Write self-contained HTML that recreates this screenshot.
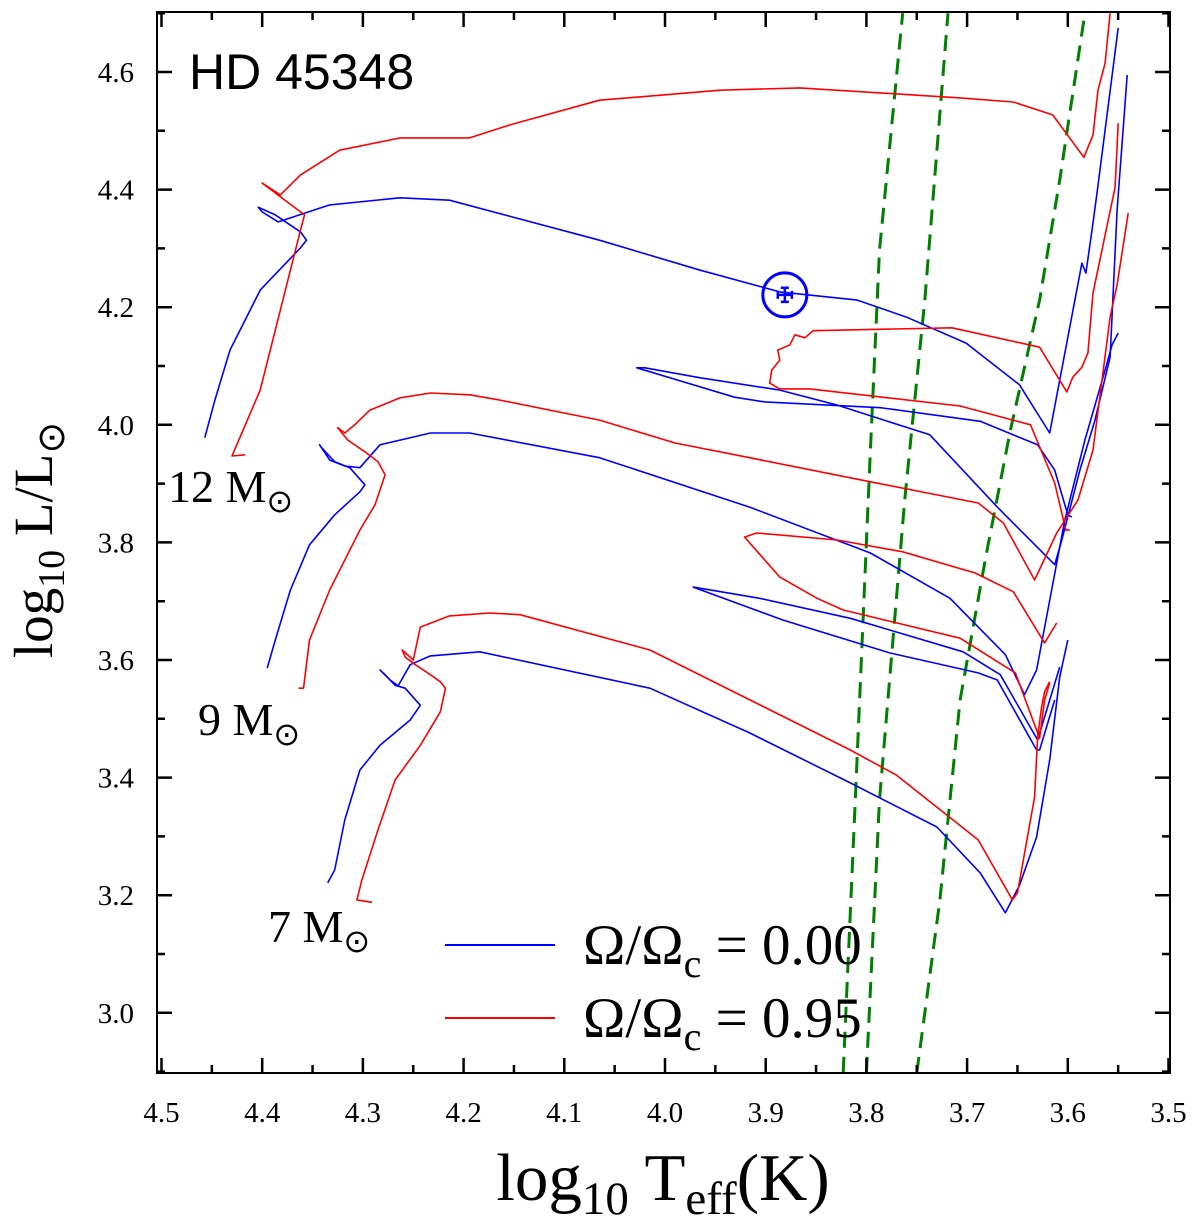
<!DOCTYPE html>
<html><head><meta charset="utf-8">
<style>
html,body{margin:0;padding:0;background:#fff;}
svg{display:block;font-family:"Liberation Serif",serif;}
.tick{font-family:"Liberation Serif",serif;}
</style></head>
<body>
<svg id="chart" width="1200" height="1222" viewBox="0 0 1200 1222" xmlns="http://www.w3.org/2000/svg">
<defs><clipPath id="plotclip"><rect x="157" y="12" width="1013" height="1061"/></clipPath></defs>
<rect x="157" y="12" width="1013" height="1061" fill="#fff" stroke="none"/>
<g id="tracks" clip-path="url(#plotclip)"></g>
<g id="axes"></g>
<text x="189" y="89" font-size="50" style="font-family:'Liberation Sans',sans-serif">HD 45348</text>
<text x="168" y="502" font-size="46">12 M<tspan font-size="32" dy="10">⊙</tspan></text>
<text x="198" y="735" font-size="46">9 M<tspan font-size="32" dy="10">⊙</tspan></text>
<text x="268" y="942" font-size="46">7 M<tspan font-size="32" dy="10">⊙</tspan></text>
<g>
<line x1="445" y1="945" x2="555" y2="945" stroke="#0000ff" stroke-width="2"/>
<text x="583" y="964" font-size="57">Ω/Ω<tspan font-size="40" dy="13">c</tspan><tspan dy="-13"> = 0.00</tspan></text>
<line x1="445" y1="1018" x2="555" y2="1018" stroke="#ff0000" stroke-width="2"/>
<text x="583" y="1037" font-size="57">Ω/Ω<tspan font-size="40" dy="13">c</tspan><tspan dy="-13"> = 0.95</tspan></text>
</g>
<text transform="translate(52,540) rotate(-90)" text-anchor="middle" font-size="55">log<tspan font-size="38" dy="12">10</tspan><tspan dy="-12"> L/L</tspan><tspan font-size="38" dy="12">⊙</tspan></text>
<text x="663" y="1200" text-anchor="middle" font-size="67">log<tspan font-size="47" dy="14">10</tspan><tspan dy="-14"> T</tspan><tspan font-size="47" dy="14">eff</tspan><tspan dy="-14">(K)</tspan></text>
</svg>
<script>
// Data (log Teff, log L/Lsun)
const xTicksMajor = [4.5,4.4,4.3,4.2,4.1,4.0,3.9,3.8,3.7,3.6,3.5];
const xTickLabels = ["4.5","4.4","4.3","4.2","4.1","4.0","3.9","3.8","3.7","3.6","3.5"];
const yTicksMajor = [3.0,3.2,3.4,3.6,3.8,4.0,4.2,4.4,4.6];
const yTickLabels = ["3.0","3.2","3.4","3.6","3.8","4.0","4.2","4.4","4.6"];
const starT = 3.881, starL = 4.221, starTerr = 0.007, starLerr = 0.012;

const blue12Main = [[4.457,3.978],[4.447,4.042],[4.432,4.127],[4.402,4.229],[4.362,4.301],[4.356,4.314],[4.362,4.328],[4.387,4.357],[4.404,4.370],[4.400,4.362],[4.384,4.345],[4.333,4.374],[4.263,4.386],[4.214,4.382],[4.065,4.314],[3.965,4.263],[3.886,4.226],[3.809,4.212],[3.760,4.183],[3.701,4.139],[3.648,4.068],[3.618,3.986],[3.586,4.275],[3.582,4.258],[3.576,4.331],[3.571,4.394],[3.550,4.675]];
const blue12Loop = [[3.596,3.843],[3.600,3.847],[3.613,3.923],[3.630,3.966],[3.687,4.006],[3.786,4.029],[3.901,4.039],[3.931,4.047],[4.028,4.097],[4.020,4.097],[3.965,4.080],[3.886,4.059],[3.830,4.034],[3.737,3.983],[3.670,3.860],[3.613,3.762],[3.606,3.804],[3.588,3.923],[3.573,4.008],[3.558,4.115],[3.551,4.365],[3.541,4.595]];
const red12Main = [[4.417,3.949],[4.430,3.947],[4.402,4.059],[4.377,4.229],[4.362,4.331],[4.358,4.357],[4.400,4.411],[4.382,4.391],[4.362,4.425],[4.323,4.467],[4.263,4.488],[4.194,4.488],[4.154,4.510],[4.065,4.552],[3.945,4.569],[3.866,4.573],[3.707,4.556],[3.654,4.549],[3.615,4.527],[3.584,4.455],[3.575,4.493],[3.570,4.569],[3.563,4.615],[3.558,4.700]];
const red12Loop = [[3.550,4.513],[3.553,4.404],[3.575,4.224],[3.580,4.122],[3.586,4.098],[3.595,4.081],[3.601,4.056],[3.628,4.132],[3.715,4.165],[3.853,4.160],[3.861,4.148],[3.871,4.153],[3.876,4.136],[3.888,4.127],[3.886,4.110],[3.894,4.093],[3.896,4.071],[3.886,4.061],[3.856,4.061],[3.707,4.032],[3.637,4.000],[3.613,3.901],[3.602,3.821],[3.598,3.821]];
const blue9Main = [[4.395,3.586],[4.387,3.634],[4.372,3.719],[4.353,3.796],[4.328,3.847],[4.303,3.886],[4.298,3.898],[4.313,3.927],[4.328,3.937],[4.341,3.961],[4.343,3.966],[4.333,3.940],[4.318,3.930],[4.303,3.927],[4.283,3.966],[4.233,3.986],[4.194,3.986],[4.065,3.944],[3.916,3.860],[3.796,3.782],[3.717,3.705],[3.662,3.609],[3.643,3.541],[3.631,3.583],[3.603,3.838],[3.583,3.974],[3.563,4.093],[3.556,4.136],[3.550,4.156]];
const blue9Loop = [[3.608,3.588],[3.630,3.464],[3.667,3.575],[3.704,3.614],[3.816,3.671],[3.906,3.705],[3.972,3.724],[3.883,3.668],[3.777,3.612],[3.689,3.578],[3.670,3.566],[3.631,3.447],[3.628,3.447],[3.613,3.532]];
const red9Main = [[4.364,3.552],[4.359,3.552],[4.353,3.634],[4.333,3.719],[4.303,3.821],[4.288,3.864],[4.278,3.915],[4.285,3.937],[4.298,3.954],[4.315,3.974],[4.325,3.995],[4.318,3.986],[4.308,4.000],[4.293,4.025],[4.263,4.046],[4.233,4.054],[4.194,4.051],[4.164,4.042],[4.065,4.008],[3.990,3.969],[3.916,3.944],[3.796,3.903],[3.689,3.867],[3.664,3.833],[3.633,3.736],[3.611,3.816],[3.590,3.872],[3.575,3.957],[3.558,4.183],[3.551,4.238],[3.540,4.360]];
const red9Loop = [[3.611,3.663],[3.623,3.629],[3.654,3.716],[3.692,3.748],[3.764,3.784],[3.829,3.804],[3.909,3.816],[3.921,3.809],[3.886,3.741],[3.849,3.705],[3.823,3.685],[3.707,3.637],[3.652,3.578],[3.628,3.467],[3.623,3.532],[3.618,3.561]];
const blue7Main = [[4.335,3.221],[4.328,3.243],[4.318,3.328],[4.303,3.413],[4.283,3.455],[4.253,3.498],[4.243,3.523],[4.258,3.552],[4.268,3.557],[4.278,3.575],[4.283,3.583],[4.273,3.566],[4.265,3.556],[4.253,3.592],[4.233,3.607],[4.184,3.614],[4.015,3.552],[3.916,3.476],[3.816,3.391],[3.730,3.316],[3.687,3.238],[3.662,3.170],[3.648,3.217],[3.631,3.299],[3.618,3.430],[3.608,3.571],[3.600,3.634]];
const red7Main = [[4.291,3.188],[4.306,3.192],[4.301,3.226],[4.285,3.311],[4.268,3.396],[4.243,3.455],[4.223,3.512],[4.218,3.552],[4.223,3.563],[4.233,3.575],[4.248,3.592],[4.258,3.605],[4.261,3.617],[4.250,3.600],[4.243,3.656],[4.214,3.675],[4.174,3.680],[4.144,3.677],[4.015,3.617],[3.816,3.447],[3.770,3.404],[3.689,3.294],[3.655,3.192],[3.650,3.204],[3.633,3.367],[3.630,3.469],[3.626,3.520],[3.623,3.546],[3.618,3.563]];
const green1 = [[3.823,2.898],[3.811,3.362],[3.796,3.957],[3.787,4.297],[3.764,4.700]];
const green2 = [[3.800,2.898],[3.787,3.362],[3.762,3.872],[3.742,4.212],[3.719,4.700]];
const green3 = [[3.750,2.898],[3.727,3.192],[3.707,3.532],[3.682,3.770],[3.657,3.991],[3.628,4.212],[3.608,4.416],[3.583,4.700]];

const NS = "http://www.w3.org/2000/svg";
function xs(t){ return 161.5 + (4.5 - t) * 1007; }
function ys(l){ return 72 + (4.6 - l) * 588; }
const tracksG = document.getElementById('tracks');
const axesG = document.getElementById('axes');

function drawLine(pts, color, width, name, dash){
  const p = document.createElementNS(NS,'polyline');
  p.setAttribute('points', pts.map(d => xs(d[0]).toFixed(1)+','+ys(d[1]).toFixed(1)).join(' '));
  p.setAttribute('fill','none');
  p.setAttribute('stroke',color);
  p.setAttribute('stroke-width',width);
  p.setAttribute('stroke-linejoin','round');
  if(dash) p.setAttribute('stroke-dasharray',dash);
  
  
  tracksG.appendChild(p);
}
drawLine(green1,'#008000',3,'instability-strip-edge-1','16,9');
drawLine(green2,'#008000',3,'instability-strip-edge-2','16,9');
drawLine(green3,'#008000',3,'instability-strip-edge-3','16,9');
drawLine(blue12Main,'#0000ff',1.6,'track-12msun-norot');
drawLine(blue12Loop,'#0000ff',1.6,'track-12msun-norot-loop');
drawLine(red12Main,'#ff0000',1.6,'track-12msun-rot');
drawLine(red12Loop,'#ff0000',1.6,'track-12msun-rot-loop');
drawLine(blue9Main,'#0000ff',1.6,'track-9msun-norot');
drawLine(blue9Loop,'#0000ff',1.6,'track-9msun-norot-loop');
drawLine(red9Main,'#ff0000',1.6,'track-9msun-rot');
drawLine(red9Loop,'#ff0000',1.6,'track-9msun-rot-loop');
drawLine(blue7Main,'#0000ff',1.6,'track-7msun-norot');
drawLine(red7Main,'#ff0000',1.6,'track-7msun-rot');

// star marker
const sx = xs(starT), sy = ys(starL);
const circ = document.createElementNS(NS,'circle');
circ.setAttribute('cx',sx); circ.setAttribute('cy',sy); circ.setAttribute('r',22);
circ.setAttribute('fill','none'); circ.setAttribute('stroke','#0000ff'); circ.setAttribute('stroke-width',3);


tracksG.appendChild(circ);
const eb = document.createElementNS(NS,'path');
const x1 = xs(starT+starTerr), x2 = xs(starT-starTerr), y1 = ys(starL+starLerr), y2 = ys(starL-starLerr);
eb.setAttribute('d',`M${x1},${sy}H${x2}M${sx},${y1}V${y2}M${sx-4},${y1}H${sx+4}M${sx-4},${y2}H${sx+4}M${x1},${sy-4}V${sy+4}M${x2},${sy-4}V${sy+4}`);
eb.setAttribute('stroke','#0000ff'); eb.setAttribute('stroke-width',2.5); eb.setAttribute('fill','none');


tracksG.appendChild(eb);

// frame
const fr = document.createElementNS(NS,'rect');
fr.setAttribute('x',157); fr.setAttribute('y',12); fr.setAttribute('width',1013); fr.setAttribute('height',1061);
fr.setAttribute('fill','none'); fr.setAttribute('stroke','#000'); fr.setAttribute('stroke-width',2);


axesG.appendChild(fr);

let d = '';
for(let i=0;i<xTicksMajor.length;i++){
  const x = xs(xTicksMajor[i]);
  d += `M${x},1073V1058M${x},12V27`;
  if(i < xTicksMajor.length-1){
    const xm = xs(xTicksMajor[i]-0.05);
    d += `M${xm},1073V1065M${xm},12V20`;
  }
  const t = document.createElementNS(NS,'text');
  t.setAttribute('x',x); t.setAttribute('y',1122); t.setAttribute('text-anchor','middle');
  t.setAttribute('font-size',29);
  t.setAttribute('class','tick');
  t.textContent = xTickLabels[i];
  
  
  axesG.appendChild(t);
}
for(let i=0;i<yTicksMajor.length;i++){
  const y = ys(yTicksMajor[i]);
  d += `M157,${y}H172M1170,${y}H1155`;
  const ym = ys(yTicksMajor[i]+0.1);
  if(ym > 12) d += `M157,${ym}H165M1170,${ym}H1162`;
  const ym2 = ys(yTicksMajor[i]-0.1);
  if(i===0 && ym2 < 1073) d += `M157,${ym2}H165M1170,${ym2}H1162`;
  const t = document.createElementNS(NS,'text');
  t.setAttribute('x',134); t.setAttribute('y',y+10); t.setAttribute('text-anchor','end');
  t.setAttribute('font-size',29);
  t.setAttribute('class','tick');
  t.textContent = yTickLabels[i];
  
  
  axesG.appendChild(t);
}
const tk = document.createElementNS(NS,'path');
tk.setAttribute('d',d); tk.setAttribute('stroke','#000'); tk.setAttribute('stroke-width',2.5); tk.setAttribute('fill','none');


axesG.appendChild(tk);
</script>
</body></html>
